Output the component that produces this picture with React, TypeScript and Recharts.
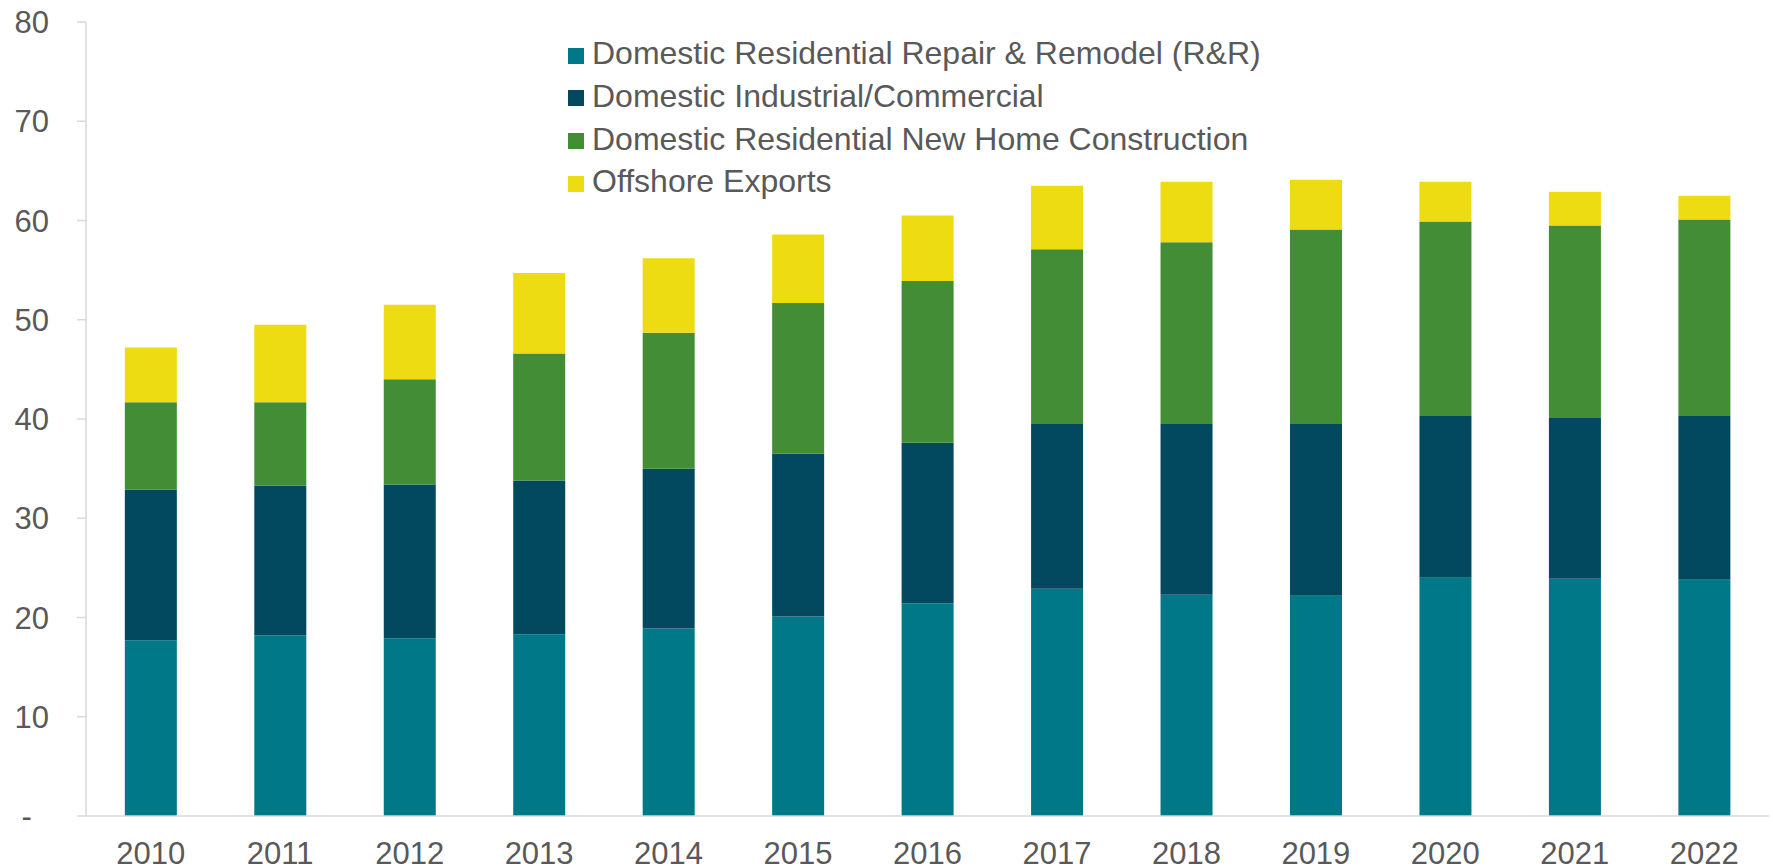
import React from "react";
import {
  BarChart,
  Bar,
  XAxis,
  YAxis,
  Legend,
} from "recharts";

const years = [
  "2010", "2011", "2012", "2013", "2014", "2015", "2016",
  "2017", "2018", "2019", "2020", "2021", "2022",
];

const seriesNames = [
  "Domestic Residential Repair & Remodel (R&R)",
  "Domestic Industrial/Commercial",
  "Domestic Residential New Home Construction",
  "Offshore Exports",
];

// stacked segment heights, bottom to top
const repairRemodel = [17.7, 18.2, 17.9, 18.3, 18.9, 20.1, 21.4, 22.9, 22.3, 22.2, 24.0, 23.9, 23.8];
const industrialCommercial = [15.2, 15.1, 15.5, 15.5, 16.1, 16.4, 16.2, 16.6, 17.2, 17.3, 16.3, 16.2, 16.5];
const newHomeConstruction = [8.8, 8.4, 10.6, 12.8, 13.7, 15.2, 16.3, 17.6, 18.3, 19.6, 19.6, 19.4, 19.8];
const offshoreExports = [5.5, 7.8, 7.5, 8.1, 7.5, 6.9, 6.6, 6.4, 6.1, 5.0, 4.0, 3.4, 2.4];

const yTicks = [0, 10, 20, 30, 40, 50, 60, 70, 80];

const data = years.map((year, i) => ({
  year,
  rr: repairRemodel[i],
  ic: industrialCommercial[i],
  nhc: newHomeConstruction[i],
  exp: offshoreExports[i],
}));

const TEXT = "#595959";
const AXIS = "#D9D9D9";
const FONT = "'Liberation Sans', Arial, sans-serif";

function fmtTick(v: number) {
  return v === 0 ? "-\u00A0\u00A0" : String(v);
}

export default function App() {
  return (
    <div style={{ width: 1773, height: 868, fontFamily: FONT, background: "#fff" }}>
      <style>{`body{margin:0}`}</style>
      <BarChart
        width={1773}
        height={868}
        data={data}
        margin={{ top: 22, right: 4, left: 0, bottom: 0 }}
        barCategoryGap="30%"
      >
        <XAxis
          dataKey="year"
          height={52}
          tickLine={false}
          tickSize={0}
          tickMargin={26}
          axisLine={{ stroke: AXIS, strokeWidth: 1.5 }}
          tick={{ fontSize: 31, fill: TEXT, fontFamily: FONT }}
        />
        <YAxis
          width={86}
          domain={[0, 80]}
          ticks={yTicks}
          interval={0}
          tickFormatter={fmtTick}
          tickSize={9}
          tickMargin={28}
          tickLine={{ stroke: AXIS, strokeWidth: 1.5 }}
          axisLine={{ stroke: AXIS, strokeWidth: 1.5 }}
          tick={{ fontSize: 31, fill: TEXT, fontFamily: FONT }}
        />
        <Legend
          layout="vertical"
          align="center"
          verticalAlign="middle"
          iconType="square"
          iconSize={16}
          itemSorter={(item: any) => seriesNames.indexOf(item.value)}
          wrapperStyle={{
            left: 568,
            top: 32,
            width: 760,
            fontSize: 32,
            lineHeight: "42.8px",
            fontFamily: FONT,
          }}
          formatter={(value) => (
            <span style={{ color: TEXT, marginLeft: 4, whiteSpace: "nowrap" }}>{value}</span>
          )}
        />
        <Bar dataKey="rr" name={seriesNames[0]} stackId="a" fill="#007887" isAnimationActive={false} />
        <Bar dataKey="ic" name={seriesNames[1]} stackId="a" fill="#02485F" isAnimationActive={false} />
        <Bar dataKey="nhc" name={seriesNames[2]} stackId="a" fill="#438D37" isAnimationActive={false} />
        <Bar dataKey="exp" name={seriesNames[3]} stackId="a" fill="#EDDC12" isAnimationActive={false} />
      </BarChart>
    </div>
  );
}
